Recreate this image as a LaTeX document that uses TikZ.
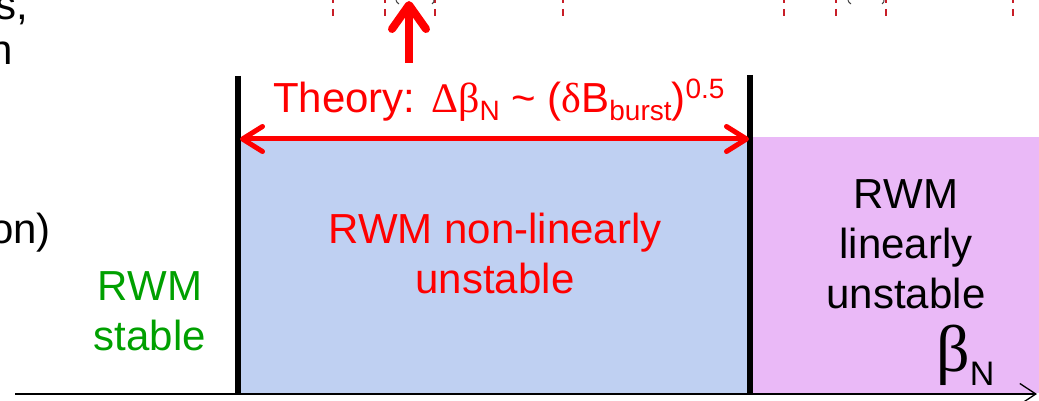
\documentclass[tikz,border=0pt]{standalone}
\usepackage{fontspec}
\setmainfont{Liberation Sans}
\newfontfamily\grk{Liberation Serif}
\usetikzlibrary{arrows.meta}
\definecolor{bluefill}{RGB}{191,208,242}
\definecolor{purplefill}{RGB}{234,185,247}
\definecolor{stablegreen}{RGB}{0,160,0}
\definecolor{dashred}{RGB}{200,30,40}
\tikzset{
  bigtext/.style={inner sep=0pt, font=\fontsize{42}{50}\selectfont, align=center, anchor=base},
  cuttext/.style={inner sep=0pt, font=\fontsize{42}{50}\selectfont, anchor=base east, text=black},
  bar/.style={line width=5.5pt, black},
  redarrow/.style={red, line width=5pt, {Straight Barb[length=20pt,width=25pt,round]}-{Straight Barb[length=20pt,width=25pt,round]}},
  uparrow/.style={red, line width=8pt, -{Straight Barb[length=24pt,width=34pt,round]}},
  axis/.style={black, line width=2pt, -{Straight Barb[length=16pt,width=21pt,line width=1.3pt]}},
  topdash/.style={dashred, line width=1.6pt, dash pattern=on 7pt off 6pt},
  glyphbit/.style={black!75, line width=1pt}
}
\newcommand{\subs}[1]{\raisebox{-8pt}{\fontsize{28}{28}\selectfont #1}}
\newcommand{\sups}[1]{\raisebox{14pt}{\fontsize{28}{28}\selectfont #1}}
\begin{document}
\begin{tikzpicture}[x=1pt,y=-1pt]
\useasboundingbox (0,0) rectangle (1039,401);
\clip (0,0) rectangle (1039,401);
% fills
\fill[bluefill] (241,141) rectangle (750,393);
\fill[purplefill] (750,137) rectangle (1039,393);
% axis
\coordinate (axL) at (15,394);
\coordinate (axR) at (1037,394);
\draw[axis] (axL) -- (axR);
% bars
\coordinate (barLt) at (238,76);
\coordinate (barLb) at (238,395);
\coordinate (barRt) at (750,75);
\coordinate (barRb) at (750,395);
\draw[bar] (barLt) -- (barLb);
\draw[bar] (barRt) -- (barRb);
% double arrow
\coordinate (arL) at (240,139);
\coordinate (arR) at (749,139);
\draw[redarrow] (arL) -- (arR);
% up arrow
\coordinate (upB) at (409,63);
\coordinate (upT) at (409,1);
\draw[uparrow] (upB) -- (upT);
% top dashed ticks
\foreach \xx [count=\i] in {333,385,435,563,784,836,886,1013}{
  \coordinate (dt\i) at (\xx,-4);
  \coordinate (db\i) at (\xx,17);
  \draw[topdash] (dt\i) -- (db\i);
}
% bits of cut-off glyphs at the top edge
\draw[glyphbit] (396,0) .. controls (396.5,2) .. (399,4);
\draw[glyphbit] (434,0) .. controls (434,2) .. (432,4);
\draw[glyphbit] (848,0) .. controls (848.5,2) .. (851,4);
\draw[glyphbit] (884,0) .. controls (884,2) .. (882,4);
% cut-off texts on the left
\node[cuttext] (c1) at (28,20) {s,};
\node[cuttext] (c2) at (13,65) {n};
\node[cuttext] (c3) at (51,243) {on)};
% theory label
\node[inner sep=0pt, anchor=base west, text=red, font=\fontsize{42}{50}\selectfont] (theory) at (273,113)
  {Theory: {\grk Δβ}\subs{N} \textasciitilde{} ({\grk δ}B\subs{burst})\sups{0.5}};
% region labels
\node[bigtext, text=red] (nonlin) at (495,293) {RWM non-linearly\\unstable};
\node[bigtext, text=black] (lin) at (906,308) {RWM\\linearly\\unstable};
\node[bigtext, text=stablegreen] (stable) at (150,350) {RWM\\stable};
% beta_N
\node[inner sep=0pt, anchor=base west] (betaN) at (936,371)
  {{\grk\fontsize{66}{66}\selectfont β}\raisebox{-14pt}{\fontsize{34}{34}\selectfont N}};
\end{tikzpicture}
\end{document}
